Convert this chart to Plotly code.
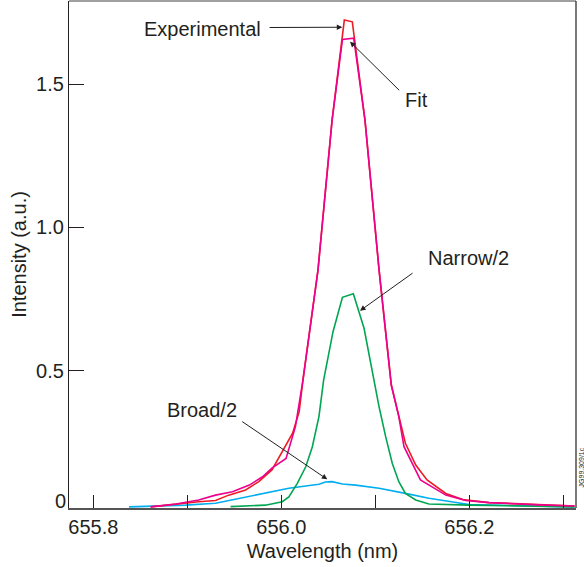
import plotly.graph_objects as go

# ---- data ----
exp_x = [655.861, 655.880, 655.912, 655.930, 655.944, 655.962, 655.976, 655.990, 656.001, 656.012,
         656.019, 656.023, 656.039, 656.054, 656.067, 656.0755, 656.089, 656.104, 656.117, 656.125,
         656.132, 656.143, 656.155, 656.175, 656.193, 656.221, 656.274, 656.312]
exp_y = [0.025, 0.032, 0.043, 0.047, 0.066, 0.084, 0.113, 0.154, 0.217, 0.282,
         0.357, 0.467, 0.851, 1.374, 1.723, 1.717, 1.374, 0.851, 0.450, 0.340,
         0.247, 0.171, 0.119, 0.072, 0.051, 0.040, 0.032, 0.028]

fit_x = [655.861, 655.888, 655.912, 655.930, 655.948, 655.966, 655.980, 655.990, 656.005, 656.015,
         656.023, 656.039, 656.054, 656.065, 656.077, 656.089, 656.104, 656.117, 656.125, 656.1305,
         656.148, 656.175, 656.196, 656.221, 656.274, 656.312]
fit_y = [0.025, 0.035, 0.049, 0.066, 0.078, 0.101, 0.130, 0.160, 0.194, 0.305,
         0.467, 0.851, 1.374, 1.655, 1.660, 1.374, 0.851, 0.450, 0.340, 0.235,
         0.119, 0.066, 0.047, 0.040, 0.032, 0.028]

narrow_x = [655.946, 655.983, 656.001, 656.008, 656.017, 656.026, 656.033, 656.040, 656.045, 656.055,
            656.065, 656.0766, 656.088, 656.0986, 656.104, 656.111, 656.118, 656.125, 656.132, 656.143,
            656.157, 656.200, 656.312]
narrow_y = [0.026, 0.031, 0.043, 0.060, 0.107, 0.165, 0.235, 0.340, 0.467, 0.636,
            0.756, 0.768, 0.648, 0.467, 0.374, 0.270, 0.177, 0.113, 0.072, 0.049,
            0.035, 0.031, 0.025]

broad_x = [655.838, 655.898, 655.930, 656.008, 656.040, 656.047, 656.054, 656.065, 656.079, 656.104,
           656.132, 656.157, 656.186, 656.200, 656.312]
broad_y = [0.025, 0.031, 0.0375, 0.090, 0.104, 0.112, 0.113, 0.105, 0.101, 0.090,
           0.072, 0.055, 0.040, 0.033, 0.025]

x_tickvals = [655.8, 655.9, 656.0, 656.1, 656.2, 656.3]
x_ticktext = ["655.8", "", "656.0", "", "656.2", ""]
y_tickvals = [0.5, 1.0, 1.5]
y_ticktext = ["0.5", "1.0", "1.5"]

FONT = "Liberation Sans, Arial, Helvetica, sans-serif"
TXT = "#231f20"

fig = go.Figure()
fig.add_trace(go.Scatter(x=broad_x, y=broad_y, mode="lines", line=dict(color="#00aeef", width=1.6), name="Broad/2"))
fig.add_trace(go.Scatter(x=narrow_x, y=narrow_y, mode="lines", line=dict(color="#00a651", width=1.6), name="Narrow/2"))
fig.add_trace(go.Scatter(x=exp_x, y=exp_y, mode="lines", line=dict(color="#ed1c24", width=1.6), name="Experimental"))
fig.add_trace(go.Scatter(x=fit_x, y=fit_y, mode="lines", line=dict(color="#ec008c", width=1.6), name="Fit"))

def arrow(hx, hy, tx, ty):
    fig.add_annotation(x=hx, y=hy, ax=tx, ay=ty, xref="x", yref="y", axref="x", ayref="y",
                       text="", showarrow=True, arrowhead=2, arrowsize=1.1, arrowwidth=1,
                       arrowcolor=TXT)

def label(x, y, t):
    fig.add_annotation(x=x, y=y, xref="x", yref="y", text=t, showarrow=False,
                       font=dict(family=FONT, size=20, color=TXT))

arrow(656.0649, 1.698, 655.9859, 1.697)
label(655.9156, 1.692, "Experimental")
arrow(656.0731, 1.6475, 656.127, 1.473)
label(656.144, 1.444, "Fit")
arrow(656.0837, 0.709, 656.1412, 0.844)
label(656.1986, 0.893, "Narrow/2")
arrow(656.0489, 0.121, 655.9568, 0.326)
label(655.916, 0.363, "Broad/2")

# zero label on y axis
fig.add_annotation(x=-0.017, y=0.014, xref="paper", yref="paper", text="0", showarrow=False,
                   xanchor="center", yanchor="middle", font=dict(family=FONT, size=20, color=TXT))
# figure code text on the right edge
fig.add_annotation(x=1.001, y=0.08, xref="paper", yref="paper", text="JG99.309/1c", showarrow=False,
                   textangle=-90, xanchor="left", yanchor="middle", borderpad=0,
                   font=dict(family=FONT, size=7, color=TXT))

# frame: top (grey) and right (dark)
fig.add_shape(type="line", xref="paper", yref="paper", x0=0, x1=1, y0=1, y1=1,
              line=dict(color="#808080", width=1.5))
fig.add_shape(type="line", xref="paper", yref="paper", x0=1, x1=1, y0=0, y1=1,
              line=dict(color="#231f20", width=1.2))

fig.update_layout(
    width=584, height=567,
    margin=dict(l=69, r=8, t=1, b=59),
    paper_bgcolor="white", plot_bgcolor="white",
    showlegend=False,
    font=dict(family=FONT, size=20, color=TXT),
    xaxis=dict(range=[655.7741, 656.3135], tickvals=x_tickvals, ticktext=x_ticktext,
               ticks="inside", ticklen=13, tickcolor=TXT, tickwidth=1,
               showline=True, linecolor="#555555", linewidth=1.5, showgrid=False, zeroline=False,
               title=dict(text="Wavelength (nm)", standoff=7, font=dict(size=20)),
               tickfont=dict(size=20)),
    yaxis=dict(range=[0.0211, 1.7895], tickvals=y_tickvals, ticktext=y_ticktext,
               ticks="inside", ticklen=15, tickcolor=TXT, tickwidth=1,
               showline=True, linecolor=TXT, linewidth=1.2, showgrid=False, zeroline=False,
               title=dict(text="Intensity (a.u.)", standoff=4, font=dict(size=20)),
               tickfont=dict(size=20)),
)

fig.write_html("out.html")
